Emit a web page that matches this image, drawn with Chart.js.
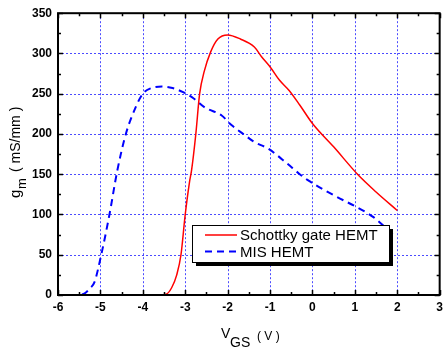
<!DOCTYPE html>
<html>
<head>
<meta charset="utf-8">
<script src="https://cdn.jsdelivr.net/npm/chart.js@4"></script>
<style>
  body { margin: 0; background: #fff; }
  canvas { display: block; }
</style>
</head>
<body>
<canvas id="gmChart" width="448" height="350"></canvas>
<script>
// Schottky gate HEMT (red, solid)
const schottkyVgs = [-4, -3.6, -3.45, -3.32, -3.2, -3.1, -3.0, -2.9, -2.85, -2.75, -2.66, -2.55, -2.4, -2.23, -2.0, -1.7, -1.37, -1.2, -0.98, -0.78, -0.55, -0.3, 0.0, 0.5, 1.08, 1.5, 2.0];
const schottkyGm  = [0, 0, 1, 9, 25, 50, 100, 140, 155, 200, 250, 278, 302, 318, 323, 318, 308, 296, 282, 267, 254, 236, 213, 184, 149, 128, 105];

// MIS HEMT (blue, dashed)
const misVgs = [-6, -5.55, -5.45, -5.37, -5.25, -5.14, -4.98, -4.79, -4.6, -4.4, -4.17, -4.0, -3.8, -3.55, -3.3, -3.05, -2.8, -2.54, -2.14, -1.91, -1.63, -1.37, -1.05, -0.59, -0.32, -0.09, 0.5, 1.12, 1.43, 1.74, 1.97];
const misGm  = [0, 0, 0.5, 2, 8, 16, 50, 99, 155, 200, 233, 250, 257, 259, 257, 252, 244, 233, 223, 211, 200, 190, 182, 163, 151, 142, 124, 107, 97, 83, 72];

const xTicks = [-6, -5, -4, -3, -2, -1, 0, 1, 2, 3];
const yTicks = [0, 50, 100, 150, 200, 250, 300, 350];
const seriesNames = ['Schottky gate HEMT', 'MIS HEMT'];

const toPoints = (xs, ys) => xs.map((x, i) => ({ x: x, y: ys[i] }));

const tickFont = { family: 'Liberation Sans, Arial', size: 12, weight: 'bold' };

// dotted blue grid at the major ticks, under the curves
const dottedGrid = {
  id: 'dottedGrid',
  beforeDatasetsDraw(chart) {
    const c = chart.ctx;
    const a = chart.chartArea;
    const xs = chart.scales.x, ys = chart.scales.y;
    c.save();
    c.strokeStyle = 'rgba(30,30,255,0.8)';
    c.lineWidth = 1;
    c.setLineDash([2, 2]);
    c.beginPath();
    xTicks.slice(1, -1).forEach(v => {
      const px = Math.round(xs.getPixelForValue(v)) + 0.5;
      c.moveTo(px, a.top); c.lineTo(px, a.bottom);
    });
    yTicks.slice(1, -1).forEach(v => {
      const py = Math.round(ys.getPixelForValue(v)) + 0.5;
      c.moveTo(a.left, py); c.lineTo(a.right, py);
    });
    c.stroke();
    c.restore();
  }
};

// frame, inward ticks, axis titles with subscripts, legend box with shadow
const decorations = {
  id: 'decorations',
  afterDraw(chart) {
    const c = chart.ctx;
    const a = chart.chartArea;
    const xs = chart.scales.x, ys = chart.scales.y;
    c.save();
    c.strokeStyle = '#000';
    c.lineWidth = 1.5;
    c.beginPath();
    for (let v = xTicks[0]; v <= xTicks[xTicks.length - 1] + 1e-9; v += 0.5) {
      const px = Math.round(xs.getPixelForValue(v)) + 0.5;
      const len = Number.isInteger(v) ? 5 : 3;
      c.moveTo(px, a.bottom); c.lineTo(px, a.bottom - len);
      c.moveTo(px, a.top); c.lineTo(px, a.top + len);
    }
    for (let v = yTicks[0]; v <= yTicks[yTicks.length - 1]; v += 25) {
      const py = Math.round(ys.getPixelForValue(v)) + 0.5;
      const len = v % 50 === 0 ? 5 : 3;
      c.moveTo(a.left, py); c.lineTo(a.left + len, py);
      c.moveTo(a.right, py); c.lineTo(a.right - len, py);
    }
    c.stroke();
    c.lineWidth = 2;
    c.strokeRect(a.left, a.top, a.right - a.left, a.bottom - a.top);

    // x title: V_GS ( V )
    c.fillStyle = '#000';
    c.textBaseline = 'alphabetic';
    c.textAlign = 'left';
    c.font = '14px Liberation Sans, Arial';
    c.fillText('V', 221, 338);
    c.font = '14px Liberation Sans, Arial';
    c.fillText('GS', 230, 347);
    c.font = '12px Liberation Sans, Arial';
    c.fillText('( V )', 257, 340);

    // y title: g_m ( mS/mm )
    c.translate(20, 0);
    c.rotate(-Math.PI / 2);
    c.font = '15px Liberation Sans, Arial';
    c.fillText('g', -198, 0);
    c.font = '13px Liberation Sans, Arial';
    c.fillText('m', -189, 6);
    c.font = '14px Liberation Sans, Arial';
    c.fillText('( mS/mm )', -172, 0);
    c.setTransform(1, 0, 0, 1, 0, 0);

    // legend
    const lx = 192, ly = 225, lw = 197, lh = 37;
    c.fillStyle = '#000';
    c.fillRect(lx + 4, ly + 4, lw, lh);
    c.fillStyle = '#fff';
    c.fillRect(lx, ly, lw, lh);
    c.lineWidth = 1;
    c.strokeStyle = '#000';
    c.strokeRect(lx + 0.5, ly + 0.5, lw, lh);
    chart.data.datasets.forEach((ds, i) => {
      const yy = ly + 10 + i * 16.5;
      c.strokeStyle = ds.borderColor;
      c.lineWidth = ds.borderWidth;
      c.setLineDash(ds.borderDash || []);
      c.beginPath();
      c.moveTo(205, yy); c.lineTo(237, yy);
      c.stroke();
      c.setLineDash([]);
      c.fillStyle = '#000';
      c.font = '15px Liberation Sans, Arial';
      c.textBaseline = 'middle';
      c.fillText(ds.label, 240, yy + 1);
    });
    c.restore();
  }
};

new Chart(document.getElementById('gmChart').getContext('2d'), {
  type: 'scatter',
  data: {
    datasets: [
      {
        label: seriesNames[0],
        data: toPoints(schottkyVgs, schottkyGm),
        showLine: true,
        borderColor: '#ff0000',
        borderWidth: 1.5,
        pointRadius: 0,
        cubicInterpolationMode: 'monotone'
      },
      {
        label: seriesNames[1],
        data: toPoints(misVgs, misGm),
        showLine: true,
        borderColor: '#0000ff',
        borderWidth: 2,
        borderDash: [7, 5],
        pointRadius: 0,
        cubicInterpolationMode: 'monotone'
      }
    ]
  },
  options: {
    responsive: false,
    animation: false,
    layout: { padding: { left: 0, top: 12, right: 3, bottom: 0 } },
    scales: {
      x: {
        type: 'linear',
        min: xTicks[0],
        max: xTicks[xTicks.length - 1],
        afterBuildTicks: (s) => { s.ticks = xTicks.map(v => ({ value: v })); },
        afterFit: (s) => { s.height = 55; },
        ticks: { color: '#000', font: tickFont, padding: 5 },
        grid: { display: false, drawTicks: false },
        border: { display: false }
      },
      y: {
        type: 'linear',
        min: yTicks[0],
        max: yTicks[yTicks.length - 1],
        afterBuildTicks: (s) => { s.ticks = yTicks.map(v => ({ value: v })); },
        afterFit: (s) => { s.width = 58; },
        ticks: { color: '#000', font: tickFont, padding: 6 },
        grid: { display: false, drawTicks: false },
        border: { display: false }
      }
    },
    plugins: {
      legend: { display: false },
      tooltip: { enabled: false }
    }
  },
  plugins: [dottedGrid, decorations]
});
</script>
</body>
</html>
